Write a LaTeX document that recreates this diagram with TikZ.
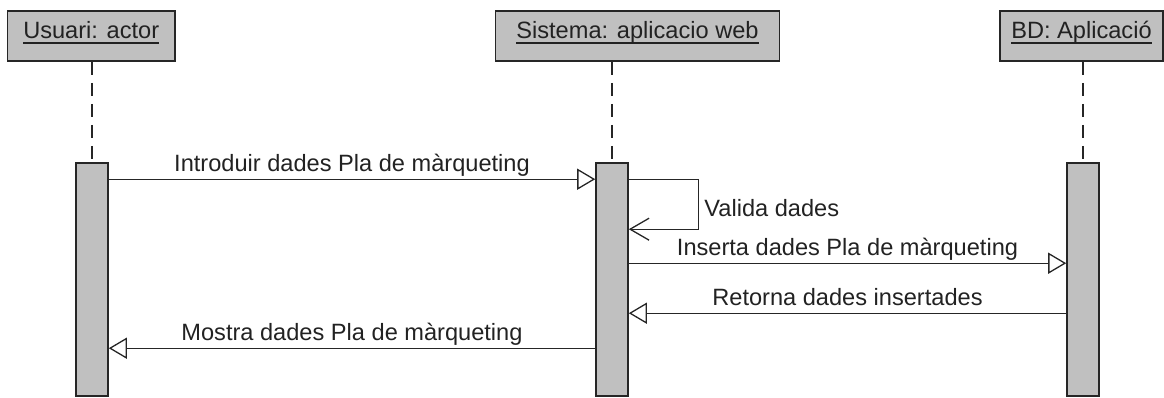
\documentclass[tikz,border=0pt]{standalone}
\usepackage{fontspec}
\setmainfont{Liberation Sans}
\usepackage{xcolor}
\definecolor{cLine}{HTML}{262626}
\definecolor{cFill}{HTML}{C0C0C0}
\definecolor{cText}{HTML}{222222}
\usetikzlibrary{arrows.meta,calc}
\tikzset{
  obj-head/.style={draw=cLine,line width=1.6pt,fill=cFill,minimum height=50pt,
    inner sep=0pt,text height=16pt,text depth=12pt,text=cText},
  act-bar/.style={draw=cLine,line width=1.6pt,fill=cFill,minimum width=32pt,
    minimum height=233pt,inner sep=0pt},
  lifeline/.style={draw=cLine,line width=1.3pt,dash pattern=on 13pt off 8pt},
  msg/.style={draw=cLine,line width=1.3pt,-{Triangle[open,length=18pt,width=21pt]}},
  msg-self/.style={draw=cLine,line width=1.3pt,-{Straight Barb[length=19pt,width=22pt]}},
  msg-label/.style={midway,anchor=base,yshift=7.5pt,inner sep=0pt,text=cText},
}
% nom subratllat de l'objecte
\newcommand{\headname}[1]{\setbox0\hbox{#1}\rlap{\rule[-5.7pt]{\wd0}{1.3pt}}\box0}

\begin{document}
\begin{tikzpicture}[x=1pt,y=-1pt,font=\fontsize{23.6}{28}\selectfont]
  \useasboundingbox (0,0) rectangle (1164,397);
  \node[obj-head,minimum width=167.5pt] (usuHead) at (91.25,36) {\headname{Usuari: actor}};
  \node[obj-head,minimum width=284pt] (sisHead) at (637.5,36) {\headname{Sistema: aplicacio web}};
  \node[obj-head,minimum width=163pt] (bdHead) at (1081.5,36) {\headname{BD: Aplicació}};
  \node[act-bar] (usuBar) at (92,279.5) {};
  \node[act-bar] (sisBar) at (612,279.5) {};
  \node[act-bar] (bdBar) at (1083,279.5) {};
  \draw[lifeline] (usuBar.north |- usuHead.south) -- (usuBar.north);
  \draw[lifeline] (sisBar.north |- sisHead.south) -- (sisBar.north);
  \draw[lifeline] (bdBar.north |- bdHead.south) -- (bdBar.north);
  \draw[msg] ([yshift=-17pt]usuBar.north east) -- node[msg-label]{Introduir dades Pla de màrqueting} ([yshift=-17pt]sisBar.north west);
  \draw[msg-self] ([yshift=-17pt]sisBar.north east) -- ++(70,0)
    -- node[anchor=west,inner sep=5pt,yshift=-3.5pt,text=cText]{Valida dades} ++(0,50)
    -- ([yshift=-67pt]sisBar.north east);
  \draw[msg] ([yshift=-101pt]sisBar.north east) -- node[msg-label]{Inserta dades Pla de màrqueting} ([yshift=-101pt]bdBar.north west);
  \draw[msg] ([yshift=-151pt]bdBar.north west) -- node[msg-label]{Retorna dades insertades} ([yshift=-151pt]sisBar.north east);
  \draw[msg] ([yshift=-186pt]sisBar.north west) -- node[msg-label]{Mostra dades Pla de màrqueting} ([yshift=-186pt]usuBar.north east);
\end{tikzpicture}
\end{document}
